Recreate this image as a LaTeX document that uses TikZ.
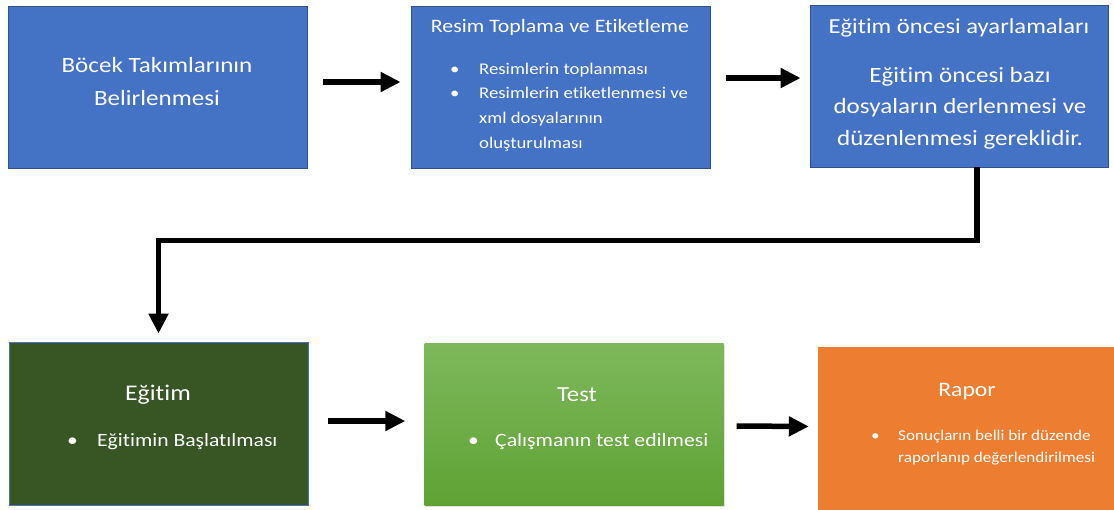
\documentclass[tikz,border=0pt]{standalone}
\usepackage{fontspec}
\setmainfont{Carlito}[FakeStretch=1.15, Ligatures=NoCommon]
\usetikzlibrary{arrows.meta,calc,shadows}
\definecolor{boxBlue}{HTML}{4472C4}
\definecolor{edgeBlue}{HTML}{2F528F}
\definecolor{darkGreen}{HTML}{375623}
\definecolor{testTop}{HTML}{7EB85B}
\definecolor{testBottom}{HTML}{5FA234}
\definecolor{reportOrange}{HTML}{ED7D31}
\newcommand{\fsz}[2]{\fontsize{#1}{#2}\selectfont}
\newcommand{\bul}[1]{\makebox[#1][l]{•}}
\tikzset{%
  >={Triangle[width=19pt,length=20pt]},
  % box styles
     base/.style = {rectangle, minimum width=299pt, minimum height=162pt,
                    inner sep=0pt},
    stageBlue/.style = {base, fill=boxBlue, draw=edgeBlue, line width=0.8pt},
    stageDark/.style = {base, fill=darkGreen, draw=boxBlue, line width=0.8pt},
    stageTest/.style = {base, top color=testTop, bottom color=testBottom,
                        drop shadow={opacity=0.25, shadow xshift=1.5pt, shadow yshift=-1.5pt}},
    stageReport/.style = {base, fill=reportOrange},
    label/.style = {text=white, inner sep=0pt, align=center},
    items/.style = {label, align=left, anchor=west},
    flow/.style = {->, line width=5.5pt, draw=black},
}

\begin{document}
\begin{tikzpicture}[x=1pt, y=-1pt]
  \useasboundingbox (0,0) rectangle (1114,509);
  % boxes
  \node (bocek)  [stageBlue] at (157.5,87) {};
  \node (resim)  [stageBlue] at (560.5,87) {};
  \node (oncesi) [stageBlue, minimum width=298pt] at (959,86) {};
  \node (egitim) [stageDark, minimum height=163pt] at (158.5,423.5) {};
  \node (test)   [stageTest] at (574,424) {};
  \node (rapor)  [stageReport, minimum width=300pt, minimum height=166pt] at (968,430) {};

  % texts
  \node (bocekText) [label, font=\fsz{21.8}{33}] at (157,82)
        {Böcek Takımlarının\\Belirlenmesi};
  \node (resimTitle) [label, font=\fsz{19}{22}] at (560,27) {Resim Toplama ve Etiketleme};
  \node (resimItems) [items, font=\fsz{16.3}{24.7}] at (450,107)
        {\bul{29pt}Resimlerin toplanması\\
         \bul{29pt}Resimlerin etiketlenmesi ve\\
         \hspace*{29pt}xml dosyalarının\\
         \hspace*{29pt}oluşturulması};
  \node (oncesiTitle) [label, font=\fsz{21.4}{24}] at (959,28) {Eğitim öncesi ayarlamaları};
  \node (oncesiText) [label, font=\fsz{21.8}{31.5}] at (960,108)
        {Eğitim öncesi bazı\\dosyaların derlenmesi ve\\düzenlenmesi gereklidir.};
  \node (egitimTitle) [label, font=\fsz{22.4}{24}] at (158,395) {Eğitim};
  \node (egitimItem) [items, font=\fsz{18.8}{22}] at (67,442)
        {\bul{30pt}Eğitimin Başlatılması};
  \node (testTitle) [label, font=\fsz{21.5}{24}] at (577,395) {Test};
  \node (testItem) [items, font=\fsz{18.9}{22}] at (468,442)
        {\bul{27pt}Çalışmanın test edilmesi};
  \node (raporTitle) [label, font=\fsz{20.6}{24}] at (967,392) {Rapor};
  \node (raporItems) [items, font=\fsz{14.9}{22}] at (871,448)
        {\bul{27pt}Sonuçların belli bir düzende\\
         \hspace*{27pt}raporlanıp değerlendirilmesi};

  % connectors
  \draw[flow] ([xshift=16pt,yshift=5pt]bocek.east) -- ([xshift=-10pt,yshift=5pt]resim.west);
  \draw[flow] ([xshift=16pt,yshift=9pt]resim.east) -- ([xshift=-9pt,yshift=8pt]oncesi.west);
  \draw[flow] ([xshift=18pt]oncesi.south) -- ++(0,73) -| ([yshift=8pt]egitim.north);
  \draw[flow] ([xshift=20pt,yshift=2.5pt]egitim.east) -- ([xshift=-19pt,yshift=3pt]test.west);
  \draw[flow] ([xshift=13pt,yshift=-2pt]test.east) -- ([xshift=-9pt,yshift=3.5pt]rapor.west);
\end{tikzpicture}
\end{document}
